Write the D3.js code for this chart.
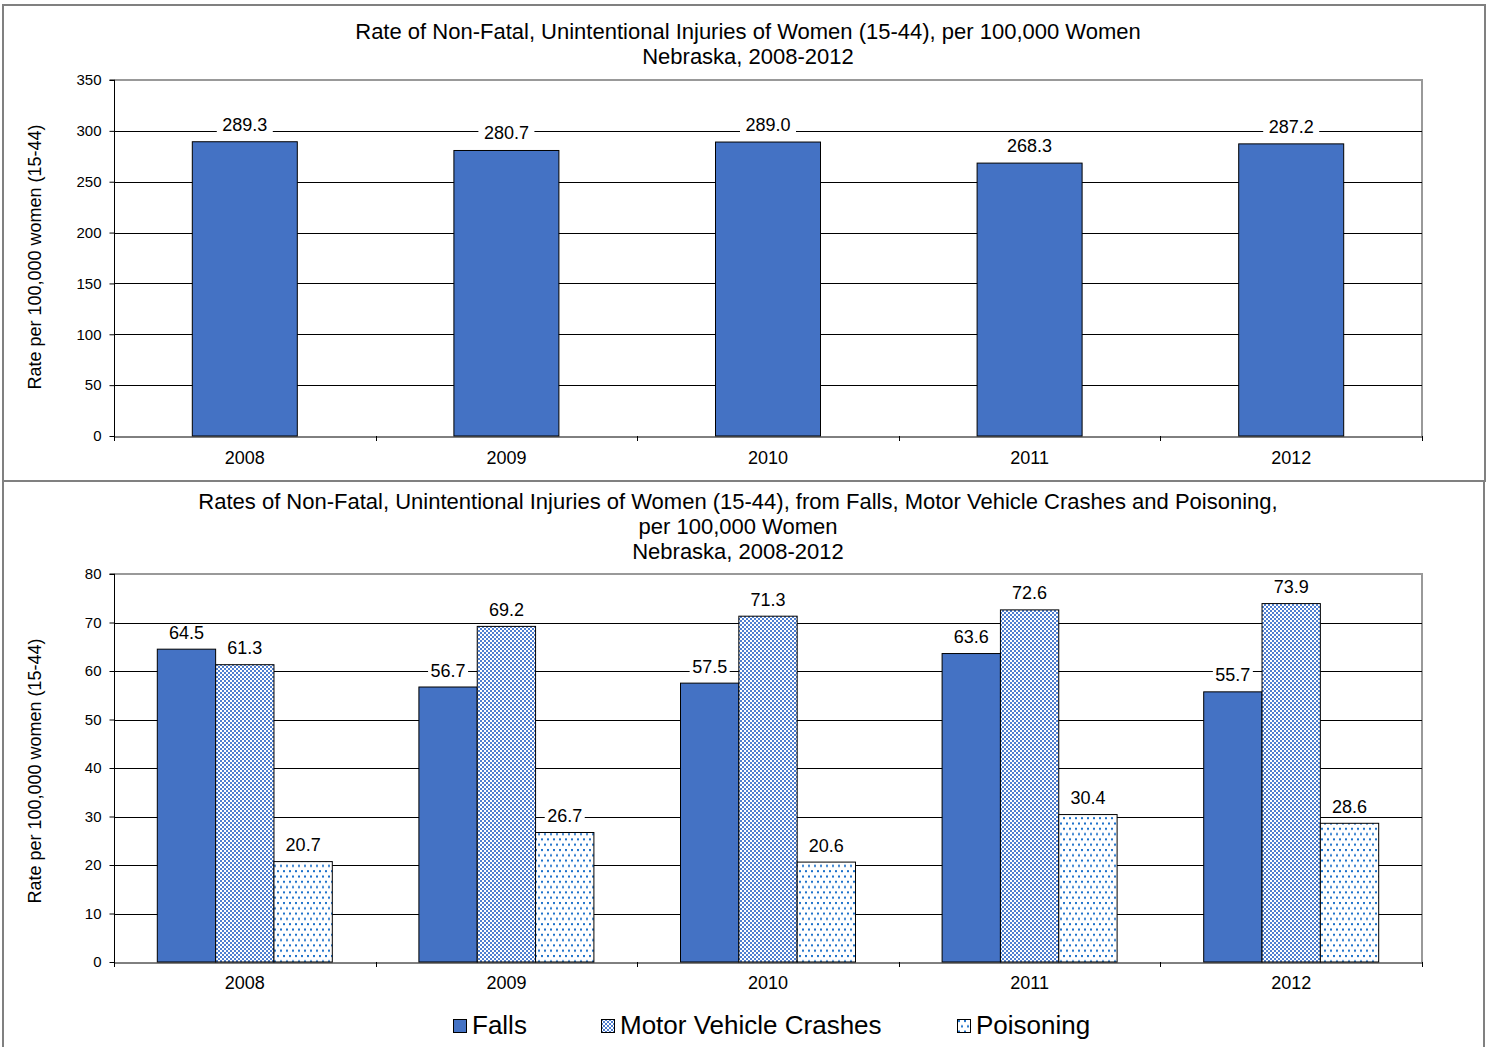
<!DOCTYPE html>
<html><head><meta charset="utf-8">
<script src="https://cdn.jsdelivr.net/npm/d3@7"></script>
<style>
body{margin:0;background:#fff;}
svg{display:block;font-family:"Liberation Sans",Arial,sans-serif;}
</style></head>
<body>
<svg id="c" width="1488" height="1047"></svg>
<script>
const years = ["2008","2009","2010","2011","2012"];
const totalRates = [289.3, 280.7, 289.0, 268.3, 287.2];
const seriesNames = ["Falls","Motor Vehicle Crashes","Poisoning"];
const falls = [64.5, 56.7, 57.5, 63.6, 55.7];
const mvc = [61.3, 69.2, 71.3, 72.6, 73.9];
const poisoning = [20.7, 26.7, 20.6, 30.4, 28.6];
const topTicks = [0,50,100,150,200,250,300,350];
const botTicks = [0,10,20,30,40,50,60,70,80];
const topTitle = ["Rate of Non-Fatal, Unintentional Injuries of Women (15-44), per 100,000 Women","Nebraska, 2008-2012"];
const botTitle = ["Rates of Non-Fatal, Unintentional Injuries of Women (15-44), from Falls, Motor Vehicle Crashes and Poisoning,","per 100,000 Women","Nebraska, 2008-2012"];
const yTitle = "Rate per 100,000 women (15-44)";

const svg = d3.select("#c");
const defs = svg.append("defs");
const BLUE = "#4472C4";
// checker pattern
const p1 = defs.append("pattern").attr("id","chk").attr("patternUnits","userSpaceOnUse").attr("width",4).attr("height",4);
p1.append("rect").attr("width",4).attr("height",4).attr("fill","#fff");
p1.append("rect").attr("x",0).attr("y",0).attr("width",2).attr("height",2).attr("fill","#4f7fd0");
p1.append("rect").attr("x",2).attr("y",2).attr("width",2).attr("height",2).attr("fill","#4f7fd0");
// dots pattern
const p2 = defs.append("pattern").attr("id","dots").attr("patternUnits","userSpaceOnUse").attr("width",6).attr("height",10.6);
p2.append("rect").attr("width",6).attr("height",10.6).attr("fill","#fff");
p2.append("rect").attr("x",1).attr("y",1).attr("width",2).attr("height",2).attr("fill","#1a6fc9");
p2.append("rect").attr("x",4).attr("y",6.3).attr("width",2).attr("height",2).attr("fill","#1a6fc9");
const fills = [BLUE, "url(#chk)", "url(#dots)"];

// panel borders
svg.append("rect").attr("x",3).attr("y",5).attr("width",1482).attr("height",476).attr("fill","none").attr("stroke","#808080").attr("stroke-width",2);
svg.append("rect").attr("x",3).attr("y",481).attr("width",1481).attr("height",580).attr("fill","none").attr("stroke","#808080").attr("stroke-width",2);

function drawChart(opts){
  const {x0,x1,yTop,yBot,maxV,ticks,titles,titleY,titleX,yTitleY,xPad} = opts;
  const g = svg.append("g");
  const x = d3.scaleBand().domain(years).range([x0,x1]);
  const y = d3.scaleLinear().domain([0,maxV]).range([yBot,yTop]);
  g.append("path").attr("d",`M${x0},${yTop}H${x1}V${yBot}`).attr("fill","none").attr("stroke","#999").attr("stroke-width",2);
  g.selectAll(".grid").data(ticks.filter(t=>t>0&&t<maxV)).enter().append("line")
    .attr("x1",x0).attr("x2",x1).attr("y1",d=>Math.round(y(d))+0.5).attr("y2",d=>Math.round(y(d))+0.5)
    .attr("stroke","#000").attr("stroke-width",1);
  const ya = g.append("g").attr("transform",`translate(${x0+0.5},0)`)
    .call(d3.axisLeft(y).tickValues(ticks).tickSize(5).tickPadding(8).tickFormat(d3.format("d")));
  ya.select(".domain").attr("d",`M-5,${yTop}H0V${yBot}`).attr("stroke","#000");
  ya.selectAll("text").attr("font-size",15).attr("fill","#000").attr("font-family","Liberation Sans, Arial, sans-serif");
  const xa = g.append("g").attr("transform",`translate(0,${yBot+0.5})`)
    .call(d3.axisBottom(x).tickSize(0).tickPadding(xPad));
  xa.select(".domain").attr("stroke","#000");
  xa.selectAll("text").attr("font-size",18).attr("fill","#000").attr("font-family","Liberation Sans, Arial, sans-serif");
  const bounds = years.map((d,i)=>x0 + i*x.step()).concat([x1]);
  g.selectAll(".xt").data(bounds).enter().append("line")
    .attr("x1",d=>Math.round(d)+0.5).attr("x2",d=>Math.round(d)+0.5).attr("y1",yBot).attr("y2",yBot+5).attr("stroke","#000");
  g.selectAll(".tt").data(titles).enter().append("text")
    .attr("x",titleX).attr("y",(d,i)=>titleY+i*25).attr("text-anchor","middle").attr("font-size",22).attr("fill","#000").text(d=>d);
  g.append("text").attr("transform",`translate(41,${yTitleY}) rotate(-90)`).attr("text-anchor","middle")
    .attr("font-size",18).attr("fill","#000").text(yTitle);
  return {g,x,y};
}

// Top chart
{
  const {g,x,y} = drawChart({x0:114,x1:1422,yTop:80,yBot:436,maxV:350,ticks:topTicks,titles:topTitle,titleY:39,titleX:748,yTitleY:257,xPad:15});
  const bw = 105;
  const data = years.map((d,i)=>({year:d,v:totalRates[i]}));
  g.selectAll(".bar").data(data).enter().append("rect")
    .attr("x",d=>x(d.year)+x.bandwidth()/2-bw/2).attr("width",bw)
    .attr("y",d=>y(d.v)).attr("height",d=>y(0)-y(d.v))
    .attr("fill",BLUE).attr("stroke","#000").attr("stroke-width",1);
  const lab = g.selectAll(".lab").data(data).enter().append("g");
  lab.append("rect").attr("x",d=>x(d.year)+x.bandwidth()/2-28).attr("y",d=>y(d.v)-26).attr("width",56).attr("height",18).attr("fill","#fff");
  lab.append("text").attr("x",d=>x(d.year)+x.bandwidth()/2).attr("y",d=>y(d.v)-11)
    .attr("text-anchor","middle").attr("font-size",18).attr("fill","#000").text(d=>d.v.toFixed(1));
}

// Bottom chart
{
  const {g,x,y} = drawChart({x0:114,x1:1422,yTop:574,yBot:962,maxV:80,ticks:botTicks,titles:botTitle,titleY:509,titleX:738,yTitleY:771,xPad:14});
  const series = [falls,mvc,poisoning];
  const groupW = 175;
  const xs = d3.scaleBand().domain(seriesNames).range([0,groupW]);
  const data = [];
  years.forEach((yr,i)=>series.forEach((s,j)=>data.push({year:yr,name:seriesNames[j],j,v:s[i]})));
  g.selectAll(".bar").data(data).enter().append("rect")
    .attr("x",d=>x(d.year)+x.bandwidth()/2-groupW/2+xs(d.name)).attr("width",xs.bandwidth())
    .attr("y",d=>y(d.v)).attr("height",d=>y(0)-y(d.v))
    .attr("fill",d=>fills[d.j]).attr("stroke","#000").attr("stroke-width",1);
  const lab = g.selectAll(".lab").data(data).enter().append("g");
  lab.append("rect").attr("x",d=>x(d.year)+x.bandwidth()/2-groupW/2+xs(d.name)+xs.bandwidth()/2-20).attr("y",d=>y(d.v)-25).attr("width",40).attr("height",18).attr("fill","#fff");
  lab.append("text").attr("x",d=>x(d.year)+x.bandwidth()/2-groupW/2+xs(d.name)+xs.bandwidth()/2).attr("y",d=>y(d.v)-10.5)
    .attr("text-anchor","middle").attr("font-size",18).attr("fill","#000").text(d=>d.v.toFixed(1));
  const legX = [453, 601, 957];
  const leg = svg.append("g").selectAll("g").data(seriesNames).enter().append("g")
    .attr("transform",(d,i)=>`translate(${legX[i]},1019)`);
  leg.append("rect").attr("x",0.5).attr("y",0.5).attr("width",13).attr("height",13).attr("fill",(d,i)=>fills[i]).attr("stroke","#000");
  leg.append("text").attr("x",19).attr("y",15).attr("font-size",26).attr("fill","#000").text(d=>d);
}
</script>
</body></html>
